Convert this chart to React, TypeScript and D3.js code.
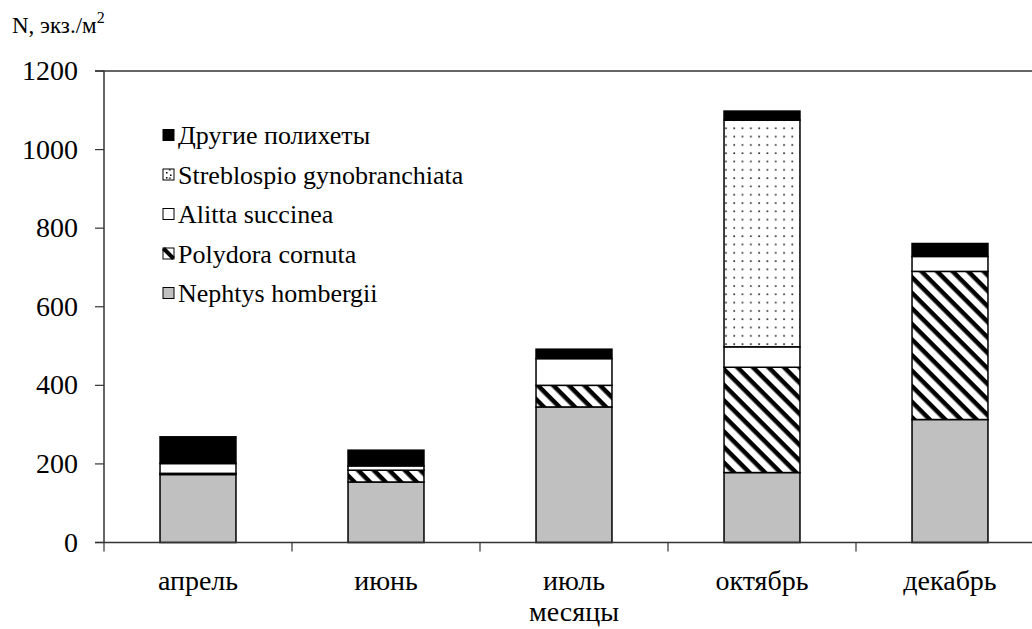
import React from "react";
import { scaleBand, scaleLinear, stack, range } from "d3";

// months on x axis
const months = ["апрель", "июнь", "июль", "октябрь", "декабрь"];

// N, экз./м2 per species (bottom to top of each stack)
const nephtys = [173, 154, 345, 178, 313];
const polydora = [3, 30, 55, 268, 377];
const alitta = [25, 11, 68, 52, 38];
const streblospio = [0, 0, 0, 577, 0];
const others = [68, 40, 24, 23, 33];

const keys = ["nephtys", "polydora", "alitta", "streblospio", "others"];
const names: Record<string, string> = {
  nephtys: "Nephtys hombergii",
  polydora: "Polydora cornuta",
  alitta: "Alitta succinea",
  streblospio: "Streblospio gynobranchiata",
  others: "Другие полихеты",
};
const fills: Record<string, string> = {
  nephtys: "#c0c0c0",
  polydora: "url(#hatch)",
  alitta: "#ffffff",
  streblospio: "url(#dots)",
  others: "#000000",
};

const yTicks = [0, 200, 400, 600, 800, 1000, 1200];

const width = 1032;
const height = 629;
const FONT = "Liberation Serif";

export default function App() {
  const rows = months.map((m, i) => ({
    month: m,
    nephtys: nephtys[i],
    polydora: polydora[i],
    alitta: alitta[i],
    streblospio: streblospio[i],
    others: others[i],
  }));
  const series = stack<any>().keys(keys)(rows);

  const x = scaleBand()
    .domain(months)
    .range([104, 1044])
    .paddingInner(0.596)
    .paddingOuter(0.298);
  const y = scaleLinear().domain([0, 1200]).range([542.5, 71]);
  const step = x.step();
  const x0 = 104;

  // legend is drawn top-down: others first
  const legendKeys = keys.slice().reverse();

  return (
    <svg
      width={width}
      height={height}
      fontFamily={FONT}
      style={{ position: "absolute", left: 0, top: 0 }}
    >
      <defs>
        <pattern
          id="hatch"
          patternUnits="userSpaceOnUse"
          width="11"
          height="11"
          patternTransform="rotate(45)"
        >
          <rect width="11" height="11" fill="#fff" />
          <rect x="0" y="0" width="11" height="4.5" fill="#000" />
        </pattern>
        <pattern id="dots" patternUnits="userSpaceOnUse" width="8.3" height="8.3">
          <rect width="8.3" height="8.3" fill="#fff" />
          <rect x="3" y="3" width="1.7" height="1.7" fill="#333" />
        </pattern>
      </defs>

      {/* title */}
      <text x={12} y={33} fontSize={23} fontFamily={FONT}>
        N, экз./м<tspan dy={-10} fontSize={16}>2</tspan>
      </text>

      {/* bars */}
      {series.map((s) => (
        <g key={s.key}>
          {s.map((d, i) =>
            d[1] - d[0] > 0 ? (
              <rect
                key={i}
                x={x(months[i])}
                y={y(d[1])}
                width={x.bandwidth()}
                height={y(d[0]) - y(d[1])}
                fill={fills[s.key]}
                stroke="#000"
                strokeWidth={1.5}
              />
            ) : null
          )}
        </g>
      ))}

      {/* top border line */}
      <line x1={95} x2={width} y1={y(1200)} y2={y(1200)} stroke="#333" strokeWidth={1.5} />

      {/* y axis */}
      <line x1={x0} x2={x0} y1={y(1200)} y2={y(0)} stroke="#333" strokeWidth={1.5} />
      {yTicks.map((t) => (
        <g key={t}>
          <line x1={95} x2={x0} y1={y(t)} y2={y(t)} stroke="#333" strokeWidth={1.2} />
          <text x={78} y={y(t) + 9} textAnchor="end" fontSize={28} fontFamily={FONT}>
            {t}
          </text>
        </g>
      ))}

      {/* x axis */}
      <line x1={95} x2={width} y1={y(0)} y2={y(0)} stroke="#333" strokeWidth={1.5} />
      {range(months.length + 1).map((i) => (
        <line
          key={i}
          x1={x0 + i * step}
          x2={x0 + i * step}
          y1={y(0)}
          y2={y(0) + 9}
          stroke="#333"
          strokeWidth={1.2}
        />
      ))}
      {months.map((m) => (
        <text
          key={m}
          x={(x(m) as number) + x.bandwidth() / 2}
          y={590}
          textAnchor="middle"
          fontSize={28}
          fontFamily={FONT}
        >
          {m}
        </text>
      ))}
      <text
        x={(x("июль") as number) + x.bandwidth() / 2}
        y={621}
        textAnchor="middle"
        fontSize={28}
        fontFamily={FONT}
      >
        месяцы
      </text>

      {/* legend */}
      {legendKeys.map((k, i) => {
        const cy = 135 + i * 39.5;
        return (
          <g key={k}>
            <rect
              x={163}
              y={cy - 5.5}
              width={11}
              height={11}
              fill={k === "polydora" ? "#fff" : fills[k]}
              stroke="#000"
              strokeWidth={1}
            />
            {k === "polydora" ? (
              <line
                x1={163.5}
                y1={cy - 5}
                x2={173.5}
                y2={cy + 5}
                stroke="#000"
                strokeWidth={4}
              />
            ) : null}
            {k === "streblospio" ? (
              <g fill="#000">
                <rect x={166} y={cy - 2.5} width={1.5} height={1.5} />
                <rect x={170} y={cy} width={1.5} height={1.5} />
                <rect x={166} y={cy + 2.5} width={1.5} height={1.5} />
              </g>
            ) : null}
            <text x={178} y={cy + 9} fontSize={26} fontFamily={FONT}>
              {names[k]}
            </text>
          </g>
        );
      })}
    </svg>
  );
}
